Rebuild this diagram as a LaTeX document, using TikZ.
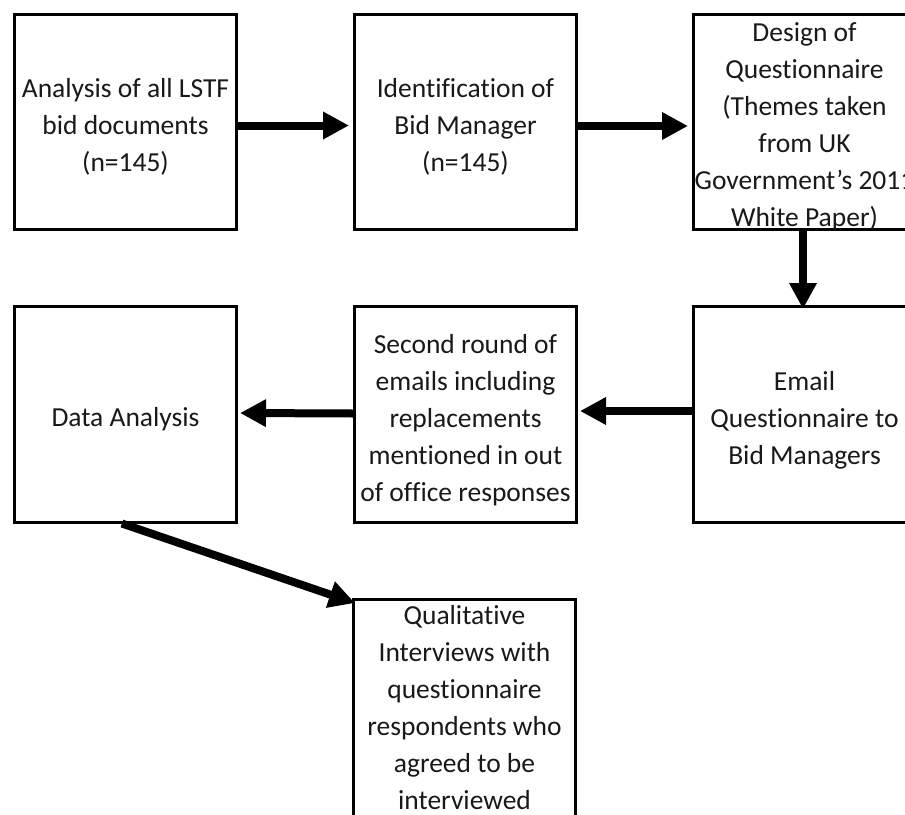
\documentclass[tikz,border=0pt]{standalone}
\usepackage{fontspec}
\setmainfont{Carlito}[Ligatures=NoCommon]
\usetikzlibrary{arrows.meta,calc}
\newcommand\topgap{\rule{0pt}{30pt}}
\newcommand\topgapb{\rule{0pt}{25pt}}
\begin{document}
\begin{tikzpicture}[x=1pt,y=-1pt,
  box/.style={draw=black,line width=3pt,minimum width=222pt,minimum height=215pt,
    inner sep=0pt,align=center,text=black!90,font=\fontsize{27.5}{37}\selectfont},
  flow/.style={line width=8pt,-{Triangle[length=26pt,width=26pt]}}]
\useasboundingbox (0,0) rectangle (905,814);
\clip (0,0) rectangle (905,814);
\fill[white] (0,0) rectangle (905,814);

\node[box] (b1) at (125.5,121.5) {\topgap Analysis of all LSTF\\bid documents\\(n=145)};
\node[box] (b2) at (465.5,121.5) {\topgap Identification of\\Bid Manager\\(n=145)};
\node[box] (b3) at (804.5,121.5) {\topgapb Design of\\Questionnaire\\(Themes taken\\from UK\\Government{\char"27}s 2011\\\smash{White Paper)}};
\node[box,minimum height=216pt] (b4) at (804.5,414.5) {\topgap Email\\Questionnaire to\\Bid Managers};
\node[box,minimum height=216pt] (b5) at (465.5,414.5) {\topgap Second round of\\emails including\\replacements\\mentioned in out\\of office responses};
\node[box,minimum height=216pt] (b6) at (125.5,414) {\topgap Data Analysis};
\node[box,minimum height=217pt] (b7) at (464.5,708) {Qualitative\\Interviews with\\questionnaire\\respondents who\\agreed to be\\interviewed};

\draw[flow,shorten >=4pt] ([yshift=-4pt]b1.east) -- ([yshift=-4pt]b2.west);
\draw[flow,shorten >=4pt] ([yshift=-4.5pt]b2.east) -- ([yshift=-4.5pt]b3.west);
\draw[flow,shorten >=-4pt] ([xshift=-1.5pt]b3.south) -- ([xshift=-1.5pt]b4.north);
\draw[flow,shorten >=2pt] ([yshift=3.5pt]b4.west) -- ([yshift=3.5pt]b5.east);
\draw[flow,shorten >=2pt] ([yshift=1pt]b5.west) -- ([yshift=1pt]b6.east);
\draw[flow] ($(b6.south west)!0.484!(b6.south east)$) -- ([xshift=3pt,yshift=-5pt]b7.north west);
\end{tikzpicture}
\end{document}
